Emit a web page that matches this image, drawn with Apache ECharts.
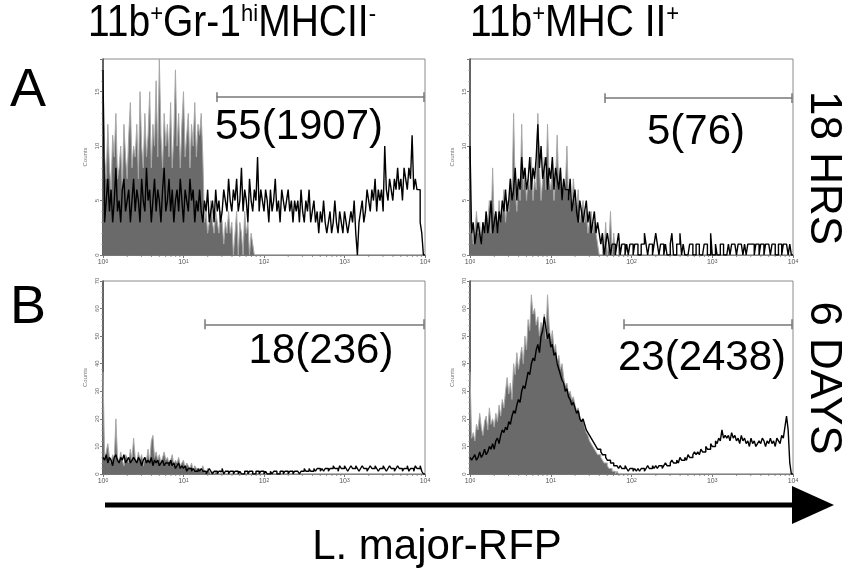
<!DOCTYPE html>
<html><head><meta charset="utf-8">
<script src="https://cdn.jsdelivr.net/npm/echarts@6/dist/echarts.min.js"></script>
<style>html,body{margin:0;padding:0;background:#fff}#c{width:844px;height:573px}</style>
</head><body><div id="c"></div>
<script>
// ---- data (x in log10 decades, 0 = 10^0 .. 4 = 10^4), 200 bins of 0.02 decade ----
const binWidth = 0.02;
const decadeTicks = [0, 1, 2, 3, 4];
const panelNames = ['A 11b+Gr-1hiMHCII- 18 HRS', 'A 11b+MHC II+ 18 HRS', 'B 11b+Gr-1hiMHCII- 6 DAYS', 'B 11b+MHC II+ 6 DAYS'];
const yMax = [18, 18, 70, 70];
const yStep = [5, 5, 10, 10];
const gateStart = [1.41, 1.67, 1.27, 1.91];
const gateEnd = [3.99, 3.99, 3.99, 3.99];
const gateLevel = [14.5, 14.4, 54.3, 54.3];
const gateLabels = ['55(1907)', '5(76)', '18(236)', '23(2438)'];
const Z20 = [0,0,0,0,0,0,0,0,0,0,0,0,0,0,0,0,0,0,0,0];

// gray = control histogram, black = RFP histogram
const grayA1 = [].concat(
  [17,9,7,12,8,6,11,9,13,7,8,10,6,12,9,7,11,14,8,10],
  [9,12,7,15,10,8,13,9,11,15,8,12,10,16,9,18,11,8,13,10],
  [12,9,14,8,11,17,10,13,8,12,15,9,11,13,8,12,10,14,9,12],
  [11,13,9,3,4,2,3,5,3,2,4,3,2,4,3,1,3,2,4,2],
  [3,0,2,4,0,3,2,0,4,2,3,0,2,1,0,0,0,0,0,0],
  Z20, Z20, Z20, Z20, Z20);
const blackA1 = [].concat(
  [17,3,5,7,4,6,3,5,8,4,5,3,6,7,4,5,6,3,5,7],
  [4,6,5,3,7,5,4,8,5,6,3,5,7,4,6,5,3,6,8,4],
  [5,7,4,6,3,5,6,4,7,5,3,6,5,4,7,5,6,3,5,4],
  [6,4,3,5,4,6,3,4,5,3,6,4,5,3,4,6,5,4,7,5],
  [4,6,5,7,4,5,8,4,6,5,3,7,5,4,6,5,9,4,6,5],
  [4,6,5,3,6,4,5,7,4,5,3,6,5,4,5,6,4,5,3,5],
  [4,5,3,6,4,3,5,4,6,3,4,5,3,4,2,4,3,5,3,2],
  [3,4,2,3,5,3,2,4,3,2,4,3,2,3,4,3,5,2,0,3],
  [4,5,3,4,6,5,4,6,5,7,4,6,5,6,4,10,6,5,7,6],
  [5,7,6,8,6,7,5,8,7,6,8,7,11,6,7,6,6,3,2,0]);
const grayA2 = [].concat(
  [2,3,1,2,4,2,3,1,3,2,4,3,5,2,8,3,4,2,5,3],
  [4,6,3,5,4,7,5,13,6,4,7,5,12,6,8,5,7,6,9,5],
  [7,6,13,8,5,7,9,6,12,7,6,8,5,7,11,6,8,5,7,6],
  [10,5,6,4,7,5,4,6,3,4,5,3,4,2,3,4,2,3,2,1],
  [0,0,2,0,3,0,1,4,0,2,0,0,1,0,0,0,0,0,0,0],
  Z20, Z20, Z20, Z20, Z20);
const blackA2 = [].concat(
  [10,2,3,1,2,3,2,1,3,2,4,2,3,5,2,3,4,2,4,3],
  [5,4,6,4,5,7,5,6,8,5,7,6,9,7,8,6,7,9,6,8],
  [7,9,12,8,10,7,8,9,6,8,7,9,6,8,7,6,8,5,7,6],
  [6,5,7,4,5,6,4,3,5,4,3,4,5,3,4,2,3,4,2,3],
  [2,1,2,0,1,2,1,0,1,1,0,1,2,0,1,1,0,1,0,1],
  [1,0,1,1,0,0,1,1,2,1,0,1,1,0,1,2,1,0,1,1],
  [0,1,0,0,1,2,0,0,1,1,2,0,1,0,0,0,1,1,0,0],
  [1,1,0,0,0,1,1,0,0,2,0,0,1,0,0,1,1,0,0,0],
  [1,0,1,1,1,0,1,1,1,0,1,0,1,1,1,1,0,1,1,0],
  [1,1,0,1,1,1,0,1,1,0,0,1,1,0,1,1,1,0,1,0]);
const grayB1 = [].concat(
  [37,5,8,11,6,4,7,5,20,6,4,8,5,3,7,6,4,9,5,13],
  [6,4,8,5,7,3,6,5,9,4,12,14,6,8,5,7,4,6,8,5],
  [6,4,5,7,3,5,4,6,3,4,5,2,4,3,2,4,1,3,2,1],
  [2,1,3,1,0,2,1,0,1,0,1,0,0,1,0,0,0,0,0,0],
  Z20, Z20, Z20, Z20, Z20, Z20);
const blackB1 = [].concat(
  [6,5,7,4,6,5,3,6,7,5,4,6,5,7,4,5,6,4,5,6],
  [5,4,6,5,3,5,6,4,5,4,6,3,5,4,5,3,4,5,3,4],
  [4,3,5,3,4,2,3,4,2,3,2,3,1,2,2,1,2,1,1,2],
  [1,2,1,1,0,1,2,1,0,1,1,0,1,1,2,0,1,1,0,1],
  [1,0,1,1,0,1,0,0,1,1,0,1,1,0,0,1,1,0,1,1],
  [0,1,0,0,1,0,1,1,0,0,1,1,0,1,1,0,1,1,0,1],
  [1,1,0,1,1,2,1,1,2,1,1,2,1,2,2,1,2,1,2,2],
  [1,2,2,3,2,2,1,3,2,2,3,2,1,2,3,2,2,3,2,1],
  [2,3,2,2,1,2,3,2,2,3,2,1,2,2,3,2,1,2,3,2],
  [2,1,2,3,2,2,1,2,2,3,1,2,2,1,3,2,2,3,1,0]);
const grayB2 = [].concat(
  [37,13,15,12,18,16,22,17,14,19,21,16,24,18,20,17,22,19,25,21],
  [27,24,30,35,29,33,27,40,36,44,38,42,46,40,50,45,56,52,65,58],
  [60,54,57,50,55,52,58,49,65,54,48,52,45,47,40,43,38,40,35,32],
  [33,29,30,27,28,25,23,24,21,19,20,17,15,14,12,11,10,9,8,7],
  [7,6,5,4,4,3,2,2,1,1,0,1,0,0,0,0,0,0,0,0],
  Z20, Z20, Z20, Z20, Z20);
const blackB2 = [].concat(
  [6,5,6,7,5,6,8,6,7,9,7,8,10,9,11,9,12,13,11,14],
  [16,15,17,16,19,18,21,23,22,25,27,26,30,32,31,34,37,36,40,42],
  [41,45,47,44,50,52,57,53,49,51,46,47,43,44,40,38,36,34,33,30],
  [31,28,27,25,26,24,22,23,20,19,20,18,16,15,14,13,12,11,10,9],
  [9,8,7,7,6,5,5,4,4,3,3,3,2,3,2,2,3,2,1,2],
  [2,1,2,1,2,1,2,2,1,2,3,2,2,3,2,3,2,3,3,2],
  [3,4,3,3,4,5,4,4,5,4,6,5,5,6,5,7,6,6,7,8],
  [7,8,7,9,8,8,10,9,9,11,10,10,12,11,13,12,16,13,14,13],
  [14,12,15,13,14,12,13,11,14,12,13,11,12,10,13,11,12,10,11,12],
  [11,13,12,10,12,11,13,11,12,10,13,12,11,14,13,17,21,16,4,0]);

const grayData = [grayA1, grayA2, grayB1, grayB2];
const blackData = [blackA1, blackA2, blackB1, blackB2];

// ---- build ----
function toSteps(arr) {
  const pts = arr.map((v, i) => [i * binWidth, v]);
  pts.push([arr.length * binWidth, 0]);
  return pts;
}
const minorTickValues = [];
for (let n = 0; n < 4; n++) for (let k = 2; k <= 9; k++) minorTickValues.push([n + Math.log10(k), 0]);

const grids = [
  {left: 103, top: 59, width: 322, height: 196},
  {left: 470, top: 59, width: 323, height: 196},
  {left: 103, top: 281, width: 322, height: 193},
  {left: 470, top: 281, width: 323, height: 193}
];
const FONT = 'Liberation Sans, Arial, Helvetica, sans-serif';
const xAxes = [], yAxes = [], series = [];
grids.forEach((g, i) => {
  g.show = true; g.borderColor = '#8a8a8a'; g.borderWidth = 1;
  xAxes.push({
    type: 'value', gridIndex: i, min: 0, max: 4, interval: 1,
    axisLine: {show: true, onZero: false, lineStyle: {color: '#777', width: 1}},
    axisTick: {show: true, length: 3, lineStyle: {color: '#777'}},
    splitLine: {show: false},
    axisLabel: {
      margin: 4, formatter: v => '{b|10}{s|' + v + '}',
      rich: {b: {fontSize: 7, color: '#555', fontFamily: FONT}, s: {fontSize: 5, color: '#555', verticalAlign: 'top', fontFamily: FONT}}
    }
  });
  yAxes.push({
    type: 'value', gridIndex: i, min: 0, max: yMax[i], interval: yStep[i],
    name: 'Counts', nameLocation: 'middle', nameGap: 15,
    nameTextStyle: {fontSize: 6, color: '#777', fontFamily: FONT},
    axisLine: {show: true, lineStyle: {color: '#444', width: 1.5}},
    axisTick: {show: true, length: 3, lineStyle: {color: '#777'}},
    minorTick: {show: true, splitNumber: 5, length: 1.5, lineStyle: {color: '#888'}},
    splitLine: {show: false},
    axisLabel: {rotate: 90, fontSize: 6, color: '#666', margin: 3, showMaxLabel: i >= 2, fontFamily: FONT}
  });
  series.push({
    name: panelNames[i] + ' control', type: 'line', step: 'end', xAxisIndex: i, yAxisIndex: i,
    data: toSteps(grayData[i]), symbol: 'none', z: 2,
    lineStyle: {color: '#a8a8a8', width: 1},
    areaStyle: {color: '#6a6a6a', opacity: 1}
  });
  const c = i < 2 ? 0.45 : 1.8;
  series.push({
    name: panelNames[i] + ' RFP', type: 'line', step: 'end', xAxisIndex: i, yAxisIndex: i,
    data: toSteps(blackData[i]), symbol: 'none', z: 3,
    lineStyle: {color: '#000', width: 1.4},
    markLine: {
      silent: true, symbol: 'none', animation: false,
      lineStyle: {color: '#777', width: 1.5, type: 'solid'}, label: {show: false},
      data: [
        [{coord: [gateStart[i], gateLevel[i]]}, {coord: [gateEnd[i], gateLevel[i]]}],
        [{coord: [gateStart[i], gateLevel[i] - c]}, {coord: [gateStart[i], gateLevel[i] + c]}],
        [{coord: [gateEnd[i], gateLevel[i] - c]}, {coord: [gateEnd[i], gateLevel[i] + c]}]
      ]
    }
  });
  series.push({
    type: 'custom', xAxisIndex: i, yAxisIndex: i, data: minorTickValues, clip: false, z: 4, silent: true,
    renderItem: (params, api) => {
      const p = api.coord([api.value(0), 0]);
      return {type: 'line', shape: {x1: p[0], y1: p[1], x2: p[0], y2: p[1] + 2}, style: {stroke: '#777', lineWidth: 0.8}};
    }
  });
});

const titleRich = {
  n: {fontSize: 39, fontFamily: FONT, fill: '#000'},
  s: {fontSize: 22, fontFamily: FONT, fill: '#000', verticalAlign: 'top'}
};
const graphic = [
  {type: 'text', x: 88, y: 2, scaleY: 1.12, style: {text: '{n|11b}{s|+}{n|Gr-1}{s|hi}{n|MHCII}{s|-}', rich: titleRich, verticalAlign: 'top'}},
  {type: 'text', x: 470, y: 2, scaleY: 1.12, style: {text: '{n|11b}{s|+}{n|MHC II}{s|+}', rich: titleRich, verticalAlign: 'top'}},
  {type: 'text', left: 10, top: 64, style: {text: 'A', font: '54px ' + FONT, fill: '#000'}},
  {type: 'text', left: 10, top: 281, style: {text: 'B', font: '54px ' + FONT, fill: '#000'}},
  {type: 'text', x: 823, y: 168, rotation: -Math.PI / 2, style: {text: '18 HRS', font: '44px ' + FONT, fill: '#000', align: 'center', verticalAlign: 'middle'}},
  {type: 'text', x: 823, y: 378, rotation: -Math.PI / 2, style: {text: '6 DAYS', font: '44px ' + FONT, fill: '#000', align: 'center', verticalAlign: 'middle'}},
  {type: 'line', shape: {x1: 105, y1: 505, x2: 800, y2: 505}, style: {stroke: '#000', lineWidth: 5}},
  {type: 'polygon', shape: {points: [[792, 486], [834, 505], [792, 524]]}, style: {fill: '#000'}},
  {type: 'text', x: 437, y: 547, style: {text: 'L. major-RFP', font: '42px ' + FONT, fill: '#000', align: 'center', verticalAlign: 'middle'}}
];
const labelPos = [[299, 127], [696, 132], [321, 351], [702, 358]];
gateLabels.forEach((t, i) => graphic.push({type: 'text', x: labelPos[i][0], y: labelPos[i][1], z: 10,
  style: {text: t, font: '42px ' + FONT, fill: '#000', align: 'center', verticalAlign: 'middle'}}));

const chart = echarts.init(document.getElementById('c'), null, {renderer: 'canvas'});
chart.setOption({
  animation: false, backgroundColor: '#fff',
  grid: grids, xAxis: xAxes, yAxis: yAxes, series: series, graphic: graphic
});
</script></body></html>
